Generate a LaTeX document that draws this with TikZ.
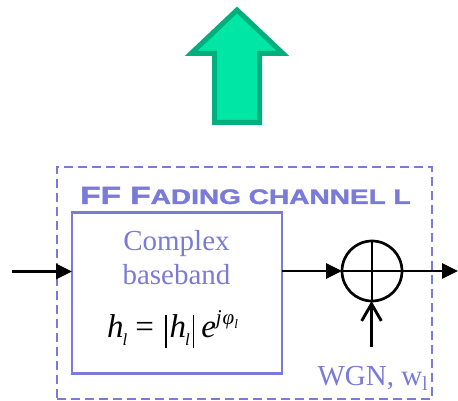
\documentclass[tikz,border=0pt]{standalone}
\usepackage{fontspec}
\setmainfont{Liberation Serif}
\newfontfamily\titlefont[BoldFeatures={FakeBold=1.6}]{Liberation Sans}
\usetikzlibrary{arrows.meta}
\definecolor{blu}{RGB}{122,122,216}
\definecolor{grnfill}{RGB}{0,230,165}
\definecolor{grnline}{RGB}{0,175,125}
\newcommand{\sizedfont}[1]{\fontsize{#1}{#1}\selectfont}
\newcommand{\absbar}{\rule[-11pt]{1.5pt}{33pt}}
\tikzset{
  flow/.style={draw=black,line width=2.9pt,-{Triangle[length=16pt,width=15pt]}},
  lbl/.style={text=blu,font=\sizedfont{29},inner sep=0pt},
  blk/.style={draw=blu,line width=2.7pt,rectangle,inner sep=0pt,outer sep=0pt}
}
\begin{document}
\begin{tikzpicture}[x=1pt,y=-1pt]
\useasboundingbox (0,0) rectangle (458,401);
\draw[grnline,fill=grnfill,line width=5pt,miter limit=10]
 (237,10) -- (283,53.5) -- (259.5,53.5) -- (259.5,122.5) -- (214.5,122.5) -- (214.5,53.5) -- (191,53.5) -- cycle;
\node[draw=blu,line width=2.7pt,dash pattern=on 9pt off 5pt,minimum width=375pt,minimum height=232pt,inner sep=0pt,outer sep=0pt,anchor=north west] (frame) at (57,167) {};
\node[blk,minimum width=210pt,minimum height=161pt,anchor=north west] (bb) at (72,212.5) {};
\node[inner sep=0pt,text=blu,anchor=base west] (title) at (80,204) {\titlefont\bfseries\scalebox{1.335}[1]{\sizedfont{25}FF F\sizedfont{21}ADING CHANNEL L}};
\node[lbl,anchor=base] (t1) at (176.5,250) {Complex};
\node[lbl,anchor=base] (t2) at (176.5,284) {baseband};
\node[inner sep=0pt,anchor=base west] (eq) at (107,337) {\sizedfont{33}\itshape h\kern-1pt\raisebox{-8pt}{\sizedfont{17}l}\kern8pt\upshape=\kern11pt\absbar\kern3pt\itshape h\kern-1pt\raisebox{-8pt}{\sizedfont{17}l}\kern3pt\absbar\kern7pt e\raisebox{13pt}{\sizedfont{21}j\kern1pt φ\raisebox{-4pt}{\sizedfont{13}l}}};
\node[draw=black,line width=2.7pt,circle,minimum size=60pt,inner sep=0pt,outer sep=0pt] (sum) at (372,271) {};
\draw[line width=2pt] (sum.north) -- (sum.south) (sum.west) -- (sum.east);
\node[lbl,anchor=base east] (wgn) at (428,385) {WGN, w\raisebox{-5pt}{\sizedfont{20}l}};
\coordinate (in) at (12,271.5);
\coordinate (out) at (458,271);
\coordinate (up) at (371.5,347);
\draw[flow] (in) -- (in -| bb.west);
\draw[flow] (bb.east |- sum.west) -- (sum.west);
\draw[flow] (sum.east) -- (out);
\draw[line width=2.9pt,-{Straight Barb[length=17pt,width=20pt,angle'=60]}] (up) -- (sum.south -| up);
\end{tikzpicture}
\end{document}
